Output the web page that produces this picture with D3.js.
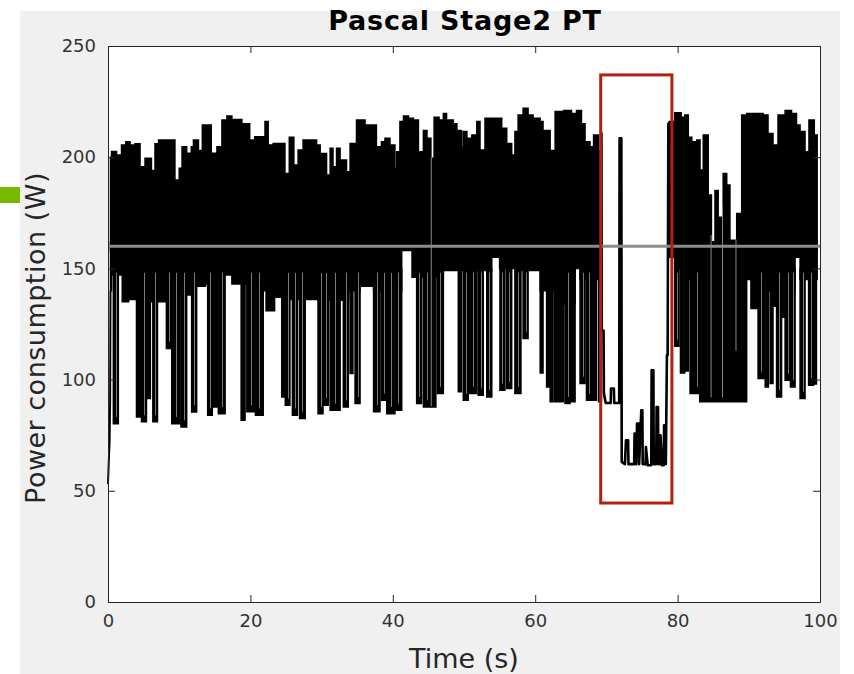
<!DOCTYPE html>
<html>
<head>
<meta charset="utf-8">
<script src="https://cdn.jsdelivr.net/npm/d3@7"></script>
<style>
  body { margin: 0; background: #fff; }
  text { font-family: "DejaVu Sans", sans-serif; }
</style>
</head>
<body>
<svg id="chart" width="854" height="674"></svg>
<script>
// axis ticks
var xTicks = [0, 20, 40, 60, 80, 100];
var yTicks = [0, 50, 100, 150, 200, 250];

// upper envelope of the busy band (time s, watts), step after
var hiT = [0.35, 0.5, 1.2, 1.9, 2.5, 3.1, 3.8, 4.5, 5.2, 6.1, 6.6, 7.1, 9.4, 10.0, 10.4, 11.05, 11.7, 12.0, 12.7, 13.25,
  14.5, 15.3, 16.0, 16.7, 17.4, 18.8, 19.9, 20.6, 22.05, 22.5, 23.2, 24.85, 25.46, 26.1, 26.7, 27.4, 29.3, 29.8, 30.7, 31.2,
  31.6, 32.1, 32.6, 33.5, 34.0, 34.9, 36.1, 37.7, 38.4, 38.9, 39.6, 40.3, 40.55, 41.0, 41.5, 42.2, 42.9, 43.6, 44.3, 44.8,
  45.35, 45.8, 46.5, 47.1, 47.55, 48.5, 49.0, 49.65, 49.9, 50.4, 51.1, 51.8, 52.25, 52.95, 55.3, 56.0, 56.7, 57.15, 57.6, 58.3,
  59.0, 59.7, 60.7, 61.1, 62.1, 62.8, 64.0, 65.1, 65.8, 66.5, 67.0, 67.7, 68.2, 68.9, 69.2, 69.3];
var hiV = [200, 202.6, 201, 205.5, 207, 205.5, 206, 195.7, 199.5, 194, 206, 207.7, 189.7, 195, 204.7, 201.8, 204.7, 207.7, 203, 214.5,
  201.8, 204.7, 216.7, 218.5, 217, 215, 207.7, 209.2, 216, 205.5, 206.2, 192.7, 209, 196.5, 203.2, 207.7, 205.5, 201.7, 192, 204,
  195.7, 204, 198.7, 193.5, 206.2, 216.7, 214.5, 204.7, 207, 208.5, 205.5, 195, 202.5, 216, 218.5, 217.5, 216.7, 202.5, 212, 208.5,
  199.5, 218, 216.7, 219.7, 216.7, 215, 212, 204.7, 211.5, 208.5, 210, 216, 203.2, 217.5, 213, 206.2, 201, 211.5, 219, 222,
  219, 217.5, 216, 212, 203, 220.5, 221, 219.7, 221, 215, 207, 204.7, 210, 203, 211.5, 211.5];
var hiT2 = [78.9, 79.6, 80.5, 81.0, 81.5, 82.0, 82.7, 83.15, 83.6, 84.3, 84.75, 85.25, 85.7, 86.2, 86.4, 86.9, 87.35, 88.3, 89.0, 89.7,
  92.0, 92.7, 93.4, 94.1, 95.1, 96.0, 96.7, 97.2, 97.9, 98.45, 99.2, 99.6];
var hiV2 = [216, 220, 218, 219, 209, 207, 207.7, 194.2, 210, 183, 146, 185, 173, 160, 192.7, 187.5, 162.7, 174.7, 219, 219.7,
  219, 210.7, 205.5, 219, 221, 219.7, 214.5, 211.5, 202.5, 216.7, 210, 210];

// lower edge of the busy band (without the deep dips), step after
var loT = [0.35, 0.5, 2.0, 2.9, 4.0, 5.7, 8.2, 9.0, 11.9, 13.7, 15.0, 17.4, 19.9, 22.2, 23.4, 25.6, 29.5, 33.8, 35.4, 37.3,
  40.3, 41.25, 42.7, 47.1, 53.9, 55.0, 58.0, 60.7, 64.0, 65.6, 66.3, 69.3];
var loV = [140, 147, 135, 136, 140, 135, 136, 138, 142, 143, 147, 143, 140, 131, 137, 136, 135.7, 140, 142, 140,
  140, 159, 146, 149, 155, 150, 149, 140, 134, 150, 145, 145];
var loT2 = [78.9, 79.6, 81.0, 83.1, 89.7, 90.3, 91.3, 93.4, 94.6, 95.1, 96.5, 97.2, 99.6];
var loV2 = [155, 150, 145, 90, 145, 132, 140, 133, 128, 140, 155, 145, 145];

// deep dips: [start s, end s, watts]
var dips = [
  [0.75, 1.45, 80.2], [4.0, 4.55, 83.2], [4.7, 5.4, 81], [5.55, 5.95, 91.5], [6.3, 6.95, 81], [8.2, 8.8, 114],
  [8.95, 10.1, 80.2], [10.25, 11.05, 78.7], [11.75, 12.45, 85.4], [14.0, 14.65, 84], [14.8, 15.35, 87.7],
  [15.5, 16.45, 84.7], [18.7, 19.25, 81.7], [19.5, 20.6, 85.5], [20.7, 21.8, 84], [24.4, 24.85, 92.2],
  [24.9, 25.55, 88.5], [25.9, 26.6, 84], [26.9, 27.7, 82.5], [29.5, 30.2, 84.7], [30.3, 30.95, 88.5],
  [31.2, 32.6, 86.2], [33.05, 33.75, 87.7], [34.0, 34.4, 102.7], [34.7, 35.4, 89.2], [37.3, 38.2, 85.5],
  [38.4, 39.1, 90.7], [39.15, 40.3, 84.7], [40.35, 41.25, 86.2], [43.35, 44.05, 89.2], [44.3, 45.3, 87.7],
  [45.45, 46.05, 87.7], [46.25, 47.1, 93.7], [49.2, 49.65, 94.5], [49.9, 50.6, 90.7], [50.8, 51.8, 93.7],
  [52.0, 52.7, 93], [53.2, 53.9, 92.2], [55.05, 55.75, 95.2], [56.0, 56.7, 96], [57.15, 58.0, 93.7],
  [58.3, 59.0, 118.5], [60.7, 61.1, 103], [61.6, 62.0, 96.7], [62.1, 62.5, 90], [62.7, 63.3, 90],
  [63.45, 64.0, 90], [64.2, 64.9, 89.2], [65.0, 65.6, 90], [66.3, 67.0, 98.3], [67.2, 67.9, 90.7],
  [68.0, 68.6, 90.7], [68.9, 69.3, 90], [79.6, 80.2, 115], [80.4, 81.0, 103], [81.0, 81.5, 103.9],
  [81.75, 82.2, 93.7], [82.4, 83.1, 93.7], [91.3, 92.2, 100.5], [92.3, 92.75, 96.7], [93.0, 93.4, 98.3],
  [93.9, 94.6, 92.2], [95.1, 95.8, 99.7], [95.85, 96.5, 96.7], [97.2, 97.9, 91.5], [98.4, 99.1, 97.5],
  [99.15, 99.5, 98]
];

// thin gaps that show through the black: [time s, top W, bottom W]
var gaps = [[45.4, 200, 88], [84.7, 165, 92], [86.3, 178, 92], [88.2, 163, 113]];

// warm-up at the start and the idle stretch inside the red box
var startT = [0, 0.12, 0.22, 0.3, 0.35];
var startV = [53, 64, 72, 90, 140];
var idleT = [69.3, 69.35, 69.6, 69.65, 69.9, 70.6, 70.65, 71.05, 71.1, 71.8, 71.85, 72.1, 72.15, 72.6, 72.75, 73.05,
  73.1, 73.9, 73.95, 74.2, 74.3, 74.55, 74.6, 74.9, 75.05, 75.1, 75.5, 75.55, 75.8, 76.3, 76.35, 76.6, 76.65, 77.0,
  77.05, 77.25, 77.3, 77.55, 77.6, 77.8, 78.05, 78.1, 78.3, 78.35, 78.5, 78.6, 78.7, 78.9];
var idleV = [211, 122, 122, 93.7, 89.5, 89.5, 96, 96, 89.5, 89.5, 208.5, 208.5, 63, 62, 72.7, 72.7,
  62, 62, 75.7, 62, 80.2, 80.2, 62, 86.2, 86.2, 62, 62, 69.7, 61.5, 61.5, 104.2, 104.2, 62, 62,
  87.7, 87.7, 62, 62, 75, 61.5, 61.5, 79.5, 79.5, 62, 111, 111, 215, 216];

var refLevel = 160;            // gray reference line
var boxT = [69.2, 79.2];       // red highlight box, time
var boxV = [44.5, 237];        // red highlight box, watts

var svg = d3.select("#chart");

// figure background + the little green tab at the left
svg.append("rect").attr("x", 20).attr("y", 11).attr("width", 820).attr("height", 663).attr("fill", "#f0f0f0");
svg.append("rect").attr("x", 0).attr("y", 187).attr("width", 20).attr("height", 16).attr("fill", "#76b900");

var x = d3.scaleLinear().domain([0, 100]).range([108, 820]);
var y = d3.scaleLinear().domain([0, 250]).range([602, 46]);

svg.append("rect").attr("x", 108).attr("y", 46).attr("width", 712).attr("height", 556).attr("fill", "#fff");

var plot = svg.append("g");

function zipPts(ts, vs) { return ts.map(function(t, i) { return [t, vs[i]]; }); }

// upper half of the band: from the reference line up to the envelope
var upArea = d3.area().curve(d3.curveStepAfter)
  .x(function(d) { return x(d[0]); })
  .y0(y(refLevel - 2))
  .y1(function(d) { return y(d[1]); });
var lowArea = d3.area().curve(d3.curveStepAfter)
  .x(function(d) { return x(d[0]); })
  .y0(y(refLevel + 2))
  .y1(function(d) { return y(d[1]); });

[[hiT, hiV], [hiT2, hiV2]].forEach(function(s) {
  plot.append("path").datum(zipPts(s[0], s[1])).attr("d", upArea)
    .attr("fill", "#000").attr("stroke", "#000").attr("stroke-width", 1.5);
});
[[loT, loV], [loT2, loV2]].forEach(function(s) {
  plot.append("path").datum(zipPts(s[0], s[1])).attr("d", lowArea)
    .attr("fill", "#000").attr("stroke", "#000").attr("stroke-width", 1.5);
});

var line = d3.line().x(function(d) { return x(d[0]); }).y(function(d) { return y(d[1]); });

plot.selectAll("path.dip").data(dips).enter().append("path")
  .attr("class", "dip")
  .attr("d", function(d) { return line([[d[0], 150], [d[0], d[2]], [d[1], d[2]], [d[1], 150]]); })
  .attr("fill", "#000").attr("stroke", "#000").attr("stroke-width", 1.5);

// wide dips are really two strokes, a hairline of white shows between them
plot.selectAll("line.split").data(dips.filter(function(d) { return d[1] - d[0] >= 0.6; })).enter().append("line")
  .attr("class", "split")
  .attr("x1", function(d) { return Math.round(x((d[0] + d[1]) / 2)) + 0.5; })
  .attr("x2", function(d) { return Math.round(x((d[0] + d[1]) / 2)) + 0.5; })
  .attr("y1", function(d) { return y(148); })
  .attr("y2", function(d) { return y(d[2] + 3); })
  .attr("stroke", "#7a7a7a").attr("stroke-width", 1);

plot.append("path").datum(zipPts(startT, startV)).attr("d", line)
  .attr("fill", "none").attr("stroke", "#000").attr("stroke-width", 2);
plot.append("path").datum(zipPts(idleT, idleV)).attr("d", line)
  .attr("fill", "none").attr("stroke", "#000").attr("stroke-width", 2.6).attr("stroke-linejoin", "round");

plot.selectAll("line.gap").data(gaps).enter().append("line")
  .attr("class", "gap")
  .attr("x1", function(d) { return x(d[0]); }).attr("x2", function(d) { return x(d[0]); })
  .attr("y1", function(d) { return y(d[1]); }).attr("y2", function(d) { return y(d[2]); })
  .attr("stroke", "#8a8a8a").attr("stroke-width", 1);

// reference line
plot.append("line")
  .attr("x1", x(0)).attr("x2", x(100)).attr("y1", y(refLevel)).attr("y2", y(refLevel))
  .attr("stroke", "#8c8c8c").attr("stroke-width", 3);

// red box
plot.append("rect")
  .attr("x", x(boxT[0])).attr("y", y(boxV[1]))
  .attr("width", x(boxT[1]) - x(boxT[0])).attr("height", y(boxV[0]) - y(boxV[1]))
  .attr("fill", "none").attr("stroke", "#b2200e").attr("stroke-width", 3);

// axes, matlab style: ticks inside, box all round
function styleAxis(g) {
  g.select(".domain").attr("stroke", "#262626");
  g.selectAll(".tick line").attr("stroke", "#262626");
  g.selectAll(".tick text").attr("fill", "#333").style("font-size", "18px").style("font-family", "DejaVu Sans");
}
svg.append("g").attr("transform", "translate(0,602)")
  .call(d3.axisBottom(x).tickValues(xTicks).tickSizeInner(-7).tickSizeOuter(0).tickPadding(12))
  .call(styleAxis);
svg.append("g").attr("transform", "translate(0,46)")
  .call(d3.axisTop(x).tickValues(xTicks).tickSizeInner(-7).tickSizeOuter(0).tickFormat(""))
  .call(styleAxis);
svg.append("g").attr("transform", "translate(108,0)")
  .call(d3.axisLeft(y).tickValues(yTicks).tickSizeInner(-7).tickSizeOuter(0).tickPadding(12))
  .call(styleAxis);
svg.append("g").attr("transform", "translate(820,0)")
  .call(d3.axisRight(y).tickValues(yTicks).tickSizeInner(-7).tickSizeOuter(0).tickFormat(""))
  .call(styleAxis);

svg.append("text").attr("x", 465).attr("y", 30).attr("text-anchor", "middle")
  .style("font-size", "27px").style("font-weight", "bold").style("letter-spacing", "0.8px").attr("fill", "#000")
  .text("Pascal Stage2 PT");
svg.append("text").attr("x", 464).attr("y", 668).attr("text-anchor", "middle")
  .style("font-size", "27px").attr("fill", "#262626")
  .text("Time (s)");
svg.append("text").attr("transform", "translate(45,338) rotate(-90)").attr("text-anchor", "middle")
  .style("font-size", "27px").style("letter-spacing", "0.5px").attr("fill", "#262626")
  .text("Power consumption (W)");
</script>
</body>
</html>
